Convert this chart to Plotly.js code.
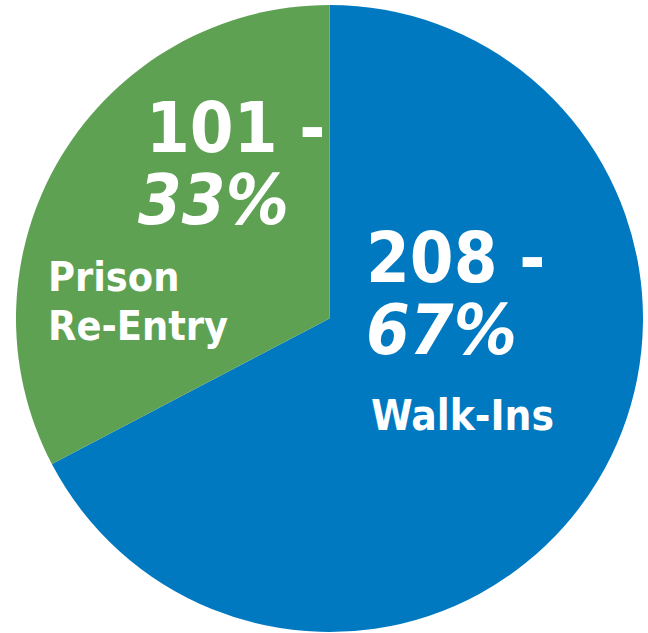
<!DOCTYPE html>
<html>
<head>
<meta charset="utf-8">
<script src="https://cdn.plot.ly/plotly-3.0.1.min.js"></script>
<style>
html,body{margin:0;padding:0;background:#fff;overflow:hidden;}
#chart{width:648px;height:633px;}
</style>
</head>
<body>
<div id="chart"></div>
<script>
const labels = ["Walk-Ins", "Prison Re-Entry"];
const values = [208, 101];
const percents = ["67%", "33%"];
const colors = ["#0079C1", "#5FA153"];

const W = 648, H = 633;
const fam = "DejaVu Sans Condensed, DejaVu Sans, sans-serif";
function px(x){return x / W;}
function py(y){return 1 - y / H;}
function ann(text, x, y, size, italic){
  return {text: text, x: px(x), y: py(y), xref: "paper", yref: "paper",
    xanchor: "left", yanchor: "middle", showarrow: false,
    font: {family: fam, size: size, color: "#ffffff", weight: "bold", style: italic ? "italic" : "normal"}};
}

const trace = {
  type: "pie",
  labels: labels,
  values: values,
  sort: false,
  direction: "clockwise",
  rotation: 0,
  textinfo: "none",
  hoverinfo: "none",
  marker: {colors: colors, line: {width: 0}},
  domain: {x: [16 / W, 643 / W], y: [1 / H, 628 / H]}
};

const layout = {
  width: W, height: H,
  margin: {l: 0, r: 0, t: 0, b: 0},
  paper_bgcolor: "#ffffff",
  showlegend: false,
  annotations: [
    ann(values[1] + " -", 144, 128, 70, false),
    ann(percents[1], 136, 200, 70, true),
    ann("Prison", 46, 277, 41, false),
    ann("Re-Entry", 46, 326, 41, false),
    ann(values[0] + " -", 364, 258, 70, false),
    ann(percents[0], 364, 330, 70, true),
    ann(labels[0], 369, 415, 42, false)
  ]
};

Plotly.newPlot("chart", [trace], layout, {staticPlot: true, displayModeBar: false});
</script>
</body>
</html>
